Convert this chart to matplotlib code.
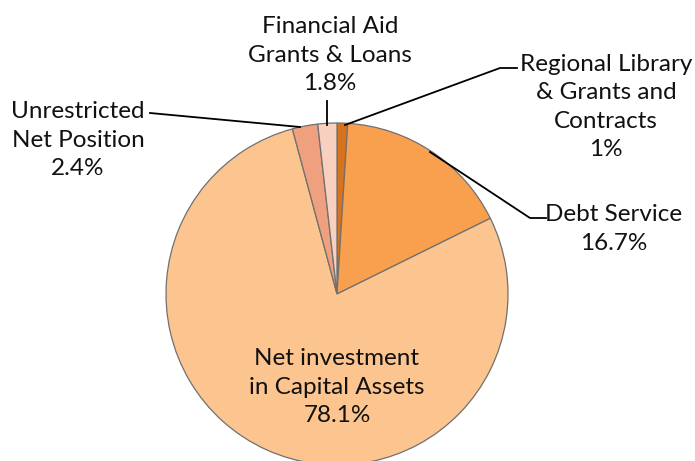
import matplotlib
matplotlib.use("Agg")
import matplotlib.pyplot as plt

categories = ["Regional Library\n& Grants and\nContracts", "Debt Service",
              "Net investment\nin Capital Assets", "Unrestricted\nNet Position",
              "Financial Aid\nGrants & Loans"]
values = [1.0, 16.7, 78.1, 2.4, 1.8]
value_labels = ["1%", "16.7%", "78.1%", "2.4%", "1.8%"]
colors = ["#d8731d", "#f9a04f", "#fcc590", "#eea07f", "#f8d0c0"]

W, H = 695, 461
fig = plt.figure(figsize=(W / 100, H / 100), dpi=100)
ax = fig.add_axes([0, 0, 1, 1])

cx, cy, r = 337, H - 294, 171
ax.pie(values, colors=colors, startangle=90, counterclock=False,
       center=(cx, cy), radius=r,
       wedgeprops=dict(edgecolor="#707070", linewidth=0.9))
ax.set_xlim(0, W)
ax.set_ylim(0, H)
ax.set_aspect("equal")
ax.axis("off")

font = dict(family="Lato", fontsize=17.5, color="#111111", ha="center",
            va="center", linespacing=1.45)

def lbl(x, y_img, i):
    ax.text(x, H - y_img, categories[i] + "\n" + value_labels[i], **font)

lbl(606, 107, 0)
lbl(614, 229, 1)
lbl(337, 387, 2)
lbl(78, 140, 3)
lbl(330, 55, 4)

lw = dict(color="black", linewidth=1.3)
# leader lines
ax.plot([345, 500, 517], [H - 125, H - 68, H - 68], **lw)
ax.plot([430, 530, 546], [H - 152, H - 218, H - 218], **lw)
ax.plot([150, 300], [H - 113, H - 127], **lw)
ax.plot([327, 327], [H - 101, H - 125], **lw)

fig.savefig("out.png", dpi=100)
